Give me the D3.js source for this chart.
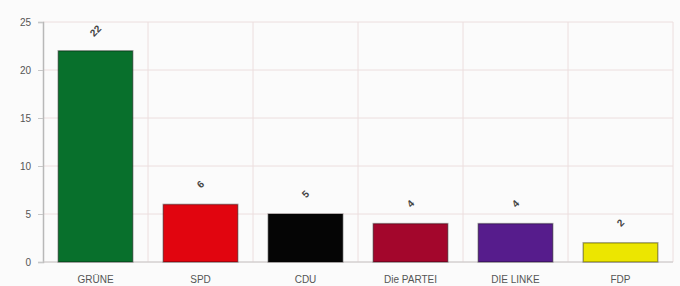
<!DOCTYPE html>
<html>
<head>
<meta charset="utf-8">
<script src="https://cdn.jsdelivr.net/npm/d3@7"></script>
<style>
  body { margin: 0; background: #fbfbfb; }
  svg { display: block; font-family: "Liberation Sans", Arial, sans-serif; }
</style>
</head>
<body>
<svg id="chart"></svg>
<script>
const parties = ["GRÜNE", "SPD", "CDU", "Die PARTEI", "DIE LINKE", "FDP"];
const seats = [22, 6, 5, 4, 4, 2];
const colors = ["#08702c", "#e1050f", "#050505", "#a3062c", "#561c8c", "#ece600"];
const yTicks = [0, 5, 10, 15, 20, 25];

const width = 680, height = 286;
const margin = { top: 22, right: 7, bottom: 24, left: 43 };

const svg = d3.select("#chart")
  .attr("width", width)
  .attr("height", height);

const x = d3.scaleBand()
  .domain(parties)
  .range([margin.left, width - margin.right])
  .paddingInner(0.29)
  .paddingOuter(0.145);

const y = d3.scaleLinear()
  .domain([0, 25])
  .range([height - margin.bottom, margin.top]);

// grid
svg.append("g")
  .selectAll("line.h")
  .data(yTicks)
  .enter()
  .append("line")
  .attr("class", "h")
  .attr("x1", margin.left)
  .attr("x2", width - margin.right)
  .attr("y1", d => y(d))
  .attr("y2", d => y(d))
  .attr("stroke", "#ecdede")
  .attr("stroke-width", 1);

const step = x.step();
svg.append("g")
  .selectAll("line.v")
  .data(parties)
  .enter()
  .append("line")
  .attr("class", "v")
  .attr("x1", d => x(d) + x.bandwidth() / 2 + step / 2)
  .attr("x2", d => x(d) + x.bandwidth() / 2 + step / 2)
  .attr("y1", margin.top)
  .attr("y2", y(0))
  .attr("stroke", "#ecdede")
  .attr("stroke-width", 1);

// y axis
const yAxis = svg.append("g")
  .attr("transform", `translate(${margin.left},0)`)
  .call(d3.axisLeft(y).tickValues(yTicks).tickSize(5).tickPadding(7));
yAxis.select(".domain").attr("stroke", "#b8b8b8").attr("stroke-width", 1.5);
yAxis.selectAll(".tick line").attr("stroke", "#c8c8c8");
yAxis.selectAll("text").attr("fill", "#555").attr("font-size", 10);

// bottom baseline
svg.append("line")
  .attr("x1", margin.left)
  .attr("x2", width - margin.right)
  .attr("y1", y(0))
  .attr("y2", y(0))
  .attr("stroke", "#c8c8c8");

// bars
svg.selectAll("rect.bar")
  .data(parties)
  .enter()
  .append("rect")
  .attr("class", "bar")
  .attr("x", d => x(d))
  .attr("y", (d, i) => y(seats[i]))
  .attr("width", x.bandwidth())
  .attr("height", (d, i) => y(0) - y(seats[i]))
  .attr("fill", (d, i) => colors[i])
  .attr("stroke", "rgba(0,0,0,0.35)")
  .attr("stroke-width", 1.5);

// value labels (rotated)
svg.selectAll("text.val")
  .data(parties)
  .enter()
  .append("text")
  .attr("class", "val")
  .attr("transform", (d, i) =>
    `translate(${x(d) + x.bandwidth() / 2},${y(seats[i]) - 20}) rotate(-45)`)
  .attr("text-anchor", "middle")
  .attr("dy", "0.35em")
  .attr("font-size", 10)
  .attr("font-weight", "bold")
  .attr("fill", "#444")
  .text((d, i) => seats[i]);

// category labels
svg.selectAll("text.cat")
  .data(parties)
  .enter()
  .append("text")
  .attr("class", "cat")
  .attr("x", d => x(d) + x.bandwidth() / 2)
  .attr("y", y(0) + 21)
  .attr("text-anchor", "middle")
  .attr("font-size", 10)
  .attr("fill", "#555")
  .text(d => d);
</script>
</body>
</html>
